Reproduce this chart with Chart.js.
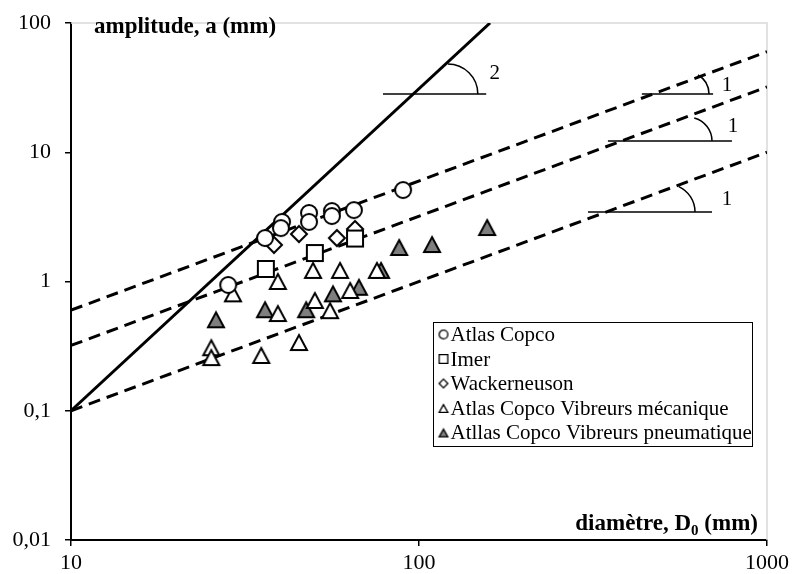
<!DOCTYPE html>
<html>
<head>
<meta charset="utf-8">
<script src="https://cdn.jsdelivr.net/npm/chart.js@4.4.0/dist/chart.umd.min.js"></script>
<style>
  html, body { margin: 0; padding: 0; background: #fff; }
</style>
</head>
<body>
<canvas id="chart" width="794" height="574"></canvas>
<script>
// series names (legend order)
const seriesNames = ['Atlas Copco', 'Imer', 'Wackerneuson',
  'Atlas Copco Vibreurs mécanique', 'Atllas Copco Vibreurs pneumatique'];

// diameter D0 (mm) / amplitude a (mm)
const atlasD = [28.3, 36.1, 40.4, 40.1, 48.3, 48.3, 56.2, 56.2, 65.0, 90.0];
const atlasA = [0.94, 2.17, 2.89, 2.59, 3.39, 2.89, 3.51, 3.21, 3.57, 5.1];
const imerD = [36.3, 50.2, 65.5];
const imerA = [1.25, 1.66, 2.15];
const wackD = [38.3, 45.2, 58.1, 65.5];
const wackA = [1.92, 2.33, 2.17, 2.55];
const mecaD = [29.2, 39.3, 49.6, 59.3, 75.7, 63.4, 50.2, 55.5, 39.3, 25.3, 25.3, 35.2, 45.2];
const mecaA = [0.81, 1.01, 1.23, 1.23, 1.23, 0.86, 0.72, 0.60, 0.57, 0.31, 0.26, 0.27, 0.34];
const pneuD = [26.1, 36.1, 47.4, 56.6, 67.2, 77.8, 87.7, 109, 157];
const pneuA = [0.51, 0.61, 0.61, 0.81, 0.91, 1.23, 1.85, 1.95, 2.64];

// reference lines (end points)
const lineD = [10, 1000];
const fitUpper = [0.6, 60];
const fitMiddle = [0.32, 32];
const fitLower = [0.1, 10];
const steepD = [10, 160];
const steepA = [0.1, 100];

// ticks
const xTicks = [10, 100, 1000];
const yTicks = [0.01, 0.1, 1, 10, 100];

// slope marks: horizontal segment, arc, number
const slopeMarks = [
  { y: 28.2, x0: 78.8, x1: 156, cx: 121, r: 30, a0: -90, label: '2', lx: 165, ly: 41 },
  { y: 28.2, x0: 437, x1: 700, cx: 589, r: 22, a0: -60, label: '1', lx: 767, ly: 33 },
  { y: 12.2, x0: 349, x1: 793, cx: 593, r: 24, a0: -75, label: '1', lx: 798, ly: 15.7 },
  { y: 3.45, x0: 306, x1: 695, cx: 516, r: 28, a0: -65, label: '1', lx: 767, ly: 4.28 }
];

const SERIF = "'Liberation Serif', 'Times New Roman', serif";
const GREY = '#7f7f7f';

function marker(shape, size, fill, lw) {
  const pad = 2;
  const c = document.createElement('canvas');
  c.width = c.height = size + pad * 2;
  const g = c.getContext('2d');
  const m = pad + lw / 2, s = size + pad * 2, e = s - m;
  g.lineWidth = lw;
  g.strokeStyle = '#000';
  g.fillStyle = fill;
  g.lineJoin = 'miter';
  g.beginPath();
  if (shape === 'circle') g.arc(s / 2, s / 2, s / 2 - m, 0, Math.PI * 2);
  else if (shape === 'square') g.rect(m, m, e - m, e - m);
  else if (shape === 'diamond') {
    g.moveTo(s / 2, m); g.lineTo(e, s / 2); g.lineTo(s / 2, e); g.lineTo(m, s / 2); g.closePath();
  } else {
    g.moveTo(s / 2, m + 1); g.lineTo(e, e); g.lineTo(m, e); g.closePath();
  }
  g.fill();
  g.stroke();
  return c;
}

const shapes = ['circle', 'square', 'diamond', 'triangle', 'triangle'];
const fills = ['#fff', '#fff', '#fff', '#fff', GREY];
const bigMarks = shapes.map((s, i) => marker(s, 18, fills[i], 2));
const smallMarks = shapes.map((s, i) => marker(s, 10, fills[i], 1.3));

function pts(xs, ys) { return xs.map((x, i) => ({ x: x, y: ys[i] })); }

const pointSets = [pts(atlasD, atlasA), pts(imerD, imerA), pts(wackD, wackA),
  pts(mecaD, mecaA), pts(pneuD, pneuA)];

const datasets = pointSets.map((d, i) => ({
  type: 'scatter', label: seriesNames[i], data: d,
  pointStyle: bigMarks[i], pointRadius: 9, order: 0
}));

function refLine(xs, ys, dashed) {
  return {
    type: 'line', label: '', data: pts(xs, ys), borderColor: '#000',
    borderWidth: 3, borderDash: dashed ? [12, 7] : [], pointRadius: 0,
    fill: false, tension: 0, order: 1
  };
}
datasets.push(refLine(lineD, fitUpper, true));
datasets.push(refLine(lineD, fitMiddle, true));
datasets.push(refLine(lineD, fitLower, true));
datasets.push(refLine(steepD, steepA, false));

function fmt(v) { return String(v).replace('.', ','); }

// grey frame top/right
const framePlugin = {
  id: 'frame',
  beforeDatasetsDraw(chart) {
    const a = chart.chartArea, g = chart.ctx;
    g.save();
    g.strokeStyle = '#d9d9d9';
    g.lineWidth = 1.5;
    g.beginPath();
    g.moveTo(a.left, a.top); g.lineTo(a.right, a.top); g.lineTo(a.right, a.bottom);
    g.stroke();
    g.restore();
  }
};

// slope marks, axis titles, legend
const extrasPlugin = {
  id: 'extras',
  afterDatasetsDraw(chart) {
    const g = chart.ctx, xs = chart.scales.x, ys = chart.scales.y;
    g.save();
    g.strokeStyle = '#000';
    g.fillStyle = '#000';
    g.lineWidth = 1.5;
    slopeMarks.forEach(m => {
      const y = ys.getPixelForValue(m.y);
      g.beginPath();
      g.moveTo(xs.getPixelForValue(m.x0), y);
      g.lineTo(xs.getPixelForValue(m.x1), y);
      g.stroke();
      g.beginPath();
      g.arc(xs.getPixelForValue(m.cx), y, m.r, m.a0 * Math.PI / 180, 0);
      g.stroke();
      g.font = '21px ' + SERIF;
      g.textAlign = 'center';
      g.textBaseline = 'middle';
      g.fillText(m.label, xs.getPixelForValue(m.lx), ys.getPixelForValue(m.ly));
    });

    // axis titles
    const a = chart.chartArea;
    g.textBaseline = 'alphabetic';
    g.textAlign = 'left';
    g.font = 'bold 23px ' + SERIF;
    g.fillText('amplitude, a (mm)', a.left + 23, a.top + 10);

    const p1 = 'diamètre, D', p2 = '0', p3 = ' (mm)';
    const base = a.bottom - 10;
    g.font = 'bold 23px ' + SERIF;
    const w1 = g.measureText(p1).width, w3 = g.measureText(p3).width;
    g.font = 'bold 15px ' + SERIF;
    const w2 = g.measureText(p2).width;
    let x = a.right - 9 - (w1 + w2 + w3);
    g.font = 'bold 23px ' + SERIF;
    g.fillText(p1, x, base); x += w1;
    g.font = 'bold 15px ' + SERIF;
    g.fillText(p2, x, base + 5); x += w2;
    g.font = 'bold 23px ' + SERIF;
    g.fillText(p3, x, base);

    // legend box
    const bx = 433.5, by = 322.5, bw = 319, bh = 124, row = 24.5;
    g.fillStyle = '#fff';
    g.fillRect(bx, by, bw, bh);
    g.strokeStyle = '#000';
    g.lineWidth = 1;
    g.strokeRect(bx, by, bw, bh);
    g.fillStyle = '#000';
    g.font = '21px ' + SERIF;
    g.textBaseline = 'middle';
    seriesNames.forEach((name, i) => {
      const cy = by + 12 + i * row;
      const img = smallMarks[i];
      g.drawImage(img, bx + 10 - img.width / 2, cy - img.height / 2);
      g.fillText(name, bx + 17, cy + 1);
    });
    g.restore();
  }
};

new Chart(document.getElementById('chart'), {
  data: { datasets: datasets },
  options: {
    responsive: false,
    devicePixelRatio: 1,
    animation: false,
    layout: { padding: { top: 23, right: 27, left: 0, bottom: 0 } },
    plugins: {
      legend: { display: false },
      tooltip: { enabled: false }
    },
    scales: {
      x: {
        type: 'logarithmic', min: 10, max: 1000,
        afterBuildTicks: s => { s.ticks = xTicks.map(v => ({ value: v })); },
        afterFit: s => { s.height = 34; s.paddingLeft = 0; s.paddingRight = 0; },
        ticks: {
          callback: v => fmt(v), color: '#000', maxRotation: 0, padding: 4,
          font: { family: SERIF, size: 22 }
        },
        grid: { drawOnChartArea: false, tickLength: 6, color: '#000', lineWidth: 1.5 },
        border: { color: '#000', width: 2 }
      },
      y: {
        type: 'logarithmic', min: 0.01, max: 100,
        afterBuildTicks: s => { s.ticks = yTicks.map(v => ({ value: v })); },
        afterFit: s => { s.width = 71; s.paddingTop = 0; s.paddingBottom = 0; },
        ticks: {
          callback: v => fmt(v), color: '#000', padding: 14,
          font: { family: SERIF, size: 22 }
        },
        grid: { drawOnChartArea: false, tickLength: 6, color: '#000', lineWidth: 1.5 },
        border: { color: '#000', width: 2 }
      }
    }
  },
  plugins: [framePlugin, extrasPlugin]
});
</script>
</body>
</html>
